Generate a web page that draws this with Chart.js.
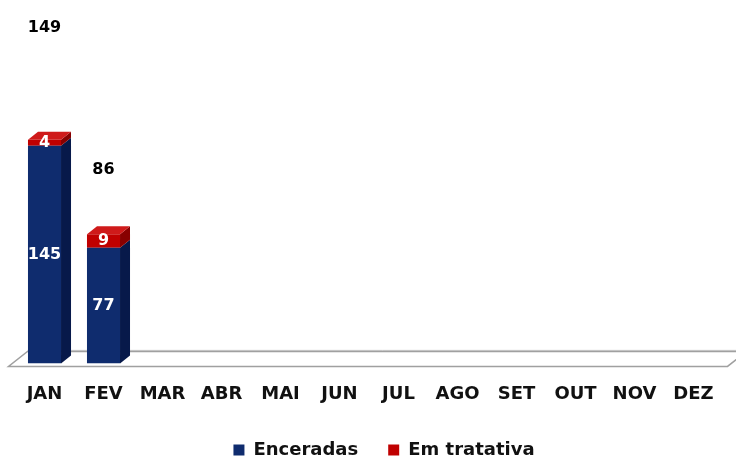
<!DOCTYPE html>
<html>
<head>
<meta charset="utf-8">
<script src="https://cdn.jsdelivr.net/npm/chart.js@4.4.1/dist/chart.umd.min.js"></script>
<style>
  html, body { margin: 0; padding: 0; background: #ffffff; }
  #wrap { width: 736px; height: 459px; position: relative; }
</style>
</head>
<body>
<div id="wrap"><canvas id="chart"></canvas></div>
<script>
// dados do gráfico
const meses = ['JAN', 'FEV', 'MAR', 'ABR', 'MAI', 'JUN', 'JUL', 'AGO', 'SET', 'OUT', 'NOV', 'DEZ'];
const enceradas = [145, 77, null, null, null, null, null, null, null, null, null, null];
const emTratativa = [4, 9, null, null, null, null, null, null, null, null, null, null];
const totais = [149, 86, null, null, null, null, null, null, null, null, null, null];

const FONTE = "'DejaVu Sans', sans-serif";
const cores = {
    enceradas: { front: '#0F2C6E', side: '#07194A', top: '#1B3B86' },
    tratativa: { front: '#C00000', side: '#880000', top: '#CF1A1A' }
};
const DX = 10, DY = -8;

// piso 3D atrás das barras
const piso3d = {
    id: 'piso3d',
    beforeDatasetsDraw(chart) {
        const { ctx, chartArea: a } = chart;
        const fl = a.left - 6.5, fr = a.right + 4.5, fy = a.bottom + 3;
        const ddx = 19, ddy = -15;
        ctx.save();
        ctx.beginPath();
        ctx.moveTo(fl, fy);
        ctx.lineTo(fr, fy);
        ctx.lineTo(fr + ddx, fy + ddy);
        ctx.lineTo(fl + ddx, fy + ddy);
        ctx.closePath();
        ctx.fillStyle = '#ffffff';
        ctx.fill();
        ctx.strokeStyle = '#a0a0a0';
        ctx.lineWidth = 1.5;
        ctx.stroke();
        ctx.beginPath();
        ctx.moveTo(fl + ddx, fy + ddy - 1);
        ctx.lineTo(fr + ddx, fy + ddy - 1);
        ctx.lineWidth = 1;
        ctx.strokeStyle = '#c0c0c0';
        ctx.stroke();
        ctx.restore();
    }
};

// legenda um pouco para a direita (o padding final desloca o centro)
const legendaCentro = {
    id: 'legendaCentro',
    afterLayout(chart) {
        if (chart.legend) {
            chart.legend.left += 15;
            chart.legend.right += 15;
        }
    }
};

// faces laterais e topo + rótulos
const barras3d = {
    id: 'barras3d',
    afterDatasetsDraw(chart) {
        const ctx = chart.ctx;
        const series = [cores.enceradas, cores.tratativa];
        const n = meses.length;
        ctx.save();
        for (let j = 0; j < n; j++) {
            let topo = -1;
            for (let i = 0; i < 2; i++) {
                if (chart.data.datasets[i].data[j]) topo = i;
            }
            for (let i = 0; i < 2; i++) {
                const v = chart.data.datasets[i].data[j];
                if (!v) continue;
                const b = chart.getDatasetMeta(i).data[j];
                const l = b.x - b.width / 2, r = b.x + b.width / 2;
                const t = Math.min(b.y, b.base), bo = Math.max(b.y, b.base);
                ctx.fillStyle = series[i].side;
                ctx.beginPath();
                ctx.moveTo(r, t);
                ctx.lineTo(r + DX, t + DY);
                ctx.lineTo(r + DX, bo + DY);
                ctx.lineTo(r, bo);
                ctx.closePath();
                ctx.fill();
                if (i === topo) {
                    ctx.fillStyle = series[i].top;
                    ctx.beginPath();
                    ctx.moveTo(l, t);
                    ctx.lineTo(l + DX, t + DY);
                    ctx.lineTo(r + DX, t + DY);
                    ctx.lineTo(r, t);
                    ctx.closePath();
                    ctx.fill();
                }
            }
        }
        // rótulos de dados
        ctx.font = 'bold 16px ' + FONTE;
        ctx.textAlign = 'center';
        ctx.textBaseline = 'middle';
        chart.data.datasets.forEach((ds, i) => {
            chart.getDatasetMeta(i).data.forEach((b, j) => {
                const v = ds.data[j];
                if (!v) return;
                ctx.fillStyle = i === 2 ? '#000000' : '#ffffff';
                ctx.fillText(String(v), b.x, (b.y + b.base) / 2);
            });
        });
        ctx.restore();
    }
};

new Chart(document.getElementById('chart'), {
    type: 'bar',
    data: {
        labels: meses,
        datasets: [
            { label: 'Enceradas', data: enceradas, backgroundColor: cores.enceradas.front },
            { label: 'Em tratativa', data: emTratativa, backgroundColor: cores.tratativa.front },
            { label: 'Total', data: totais, backgroundColor: 'rgba(0,0,0,0)' }
        ]
    },
    options: {
        responsive: true,
        maintainAspectRatio: false,
        animation: false,
        datasets: { bar: { categoryPercentage: 1, barPercentage: 0.56 } },
        layout: { padding: { left: 15, right: 13, top: 0, bottom: -10 } },
        scales: {
            x: {
                stacked: true,
                grid: { display: false, drawTicks: false },
                border: { display: false },
                ticks: { color: '#111111', font: { family: FONTE, size: 18, weight: 'bold' }, padding: 20, maxRotation: 0 },
                afterFit(scale) { scale.height -= 14; }
            },
            y: {
                stacked: true,
                display: false,
                min: 0,
                max: 242
            }
        },
        plugins: {
            legend: {
                position: 'bottom',
                labels: {
                    color: '#111111',
                    font: { family: FONTE, size: 18, weight: 'bold' },
                    boxWidth: 11,
                    boxHeight: 11,
                    padding: 30,
                    filter: item => item.datasetIndex < 2
                }
            },
            tooltip: { enabled: false }
        }
    },
    plugins: [piso3d, legendaCentro, barras3d]
});
</script>
</body>
</html>
